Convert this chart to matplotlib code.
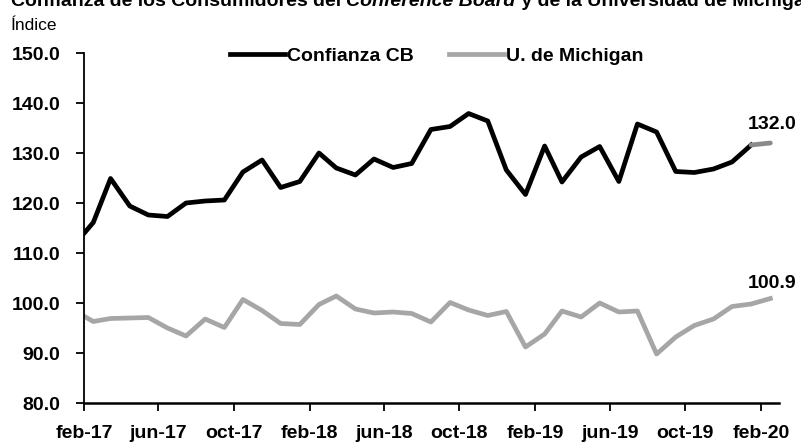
import numpy as np
import pandas as pd
import matplotlib
matplotlib.use("Agg")
import matplotlib.pyplot as plt
import matplotlib.dates as mdates

plt.rcParams['font.family'] = ['Liberation Sans', 'DejaVu Sans']

# Monthly data, jan-17 .. feb-20 (points sit mid-month on a date axis)
months = pd.date_range("2017-01-01", "2020-02-01", freq="MS") + pd.Timedelta(days=15)

cb = [111.6, 116.1, 124.9, 119.4, 117.6, 117.3, 120.0, 120.4, 120.6, 126.2, 128.6, 123.1,
      124.3, 130.0, 127.0, 125.6, 128.8, 127.1, 127.9, 134.7, 135.3, 137.9, 136.4, 126.6,
      121.7, 131.4, 124.2, 129.2, 131.3, 124.3, 135.8, 134.2, 126.3, 126.1, 126.8, 128.2,
      131.6, 132.0]
umich = [98.5, 96.3, 96.9, 97.0, 97.1, 95.0, 93.4, 96.8, 95.1, 100.7, 98.5, 95.9,
         95.7, 99.7, 101.4, 98.8, 98.0, 98.2, 97.9, 96.2, 100.1, 98.6, 97.5, 98.3,
         91.2, 93.8, 98.4, 97.2, 100.0, 98.2, 98.4, 89.8, 93.2, 95.5, 96.8, 99.3,
         99.8, 100.9]

tick_dates = pd.date_range("2017-02-01", "2020-02-01", freq="4MS")
tick_labels = ["feb-17", "jun-17", "oct-17", "feb-18", "jun-18", "oct-18",
               "feb-19", "jun-19", "oct-19", "feb-20"]
y_ticks = [80, 90, 100, 110, 120, 130, 140, 150]

fs = 14

fig = plt.figure(figsize=(8.01, 4.43), dpi=100)
ax = fig.add_axes([84/801, 1 - 403/443, (779 - 84)/801, 350/443])

lw = 3.4
ax.plot(months[:-1], cb[:-1], color='black', lw=lw, solid_joinstyle='round',
        label='Confianza CB')
ax.plot(months[-2:], cb[-2:], color='#8a8a8a', lw=lw, solid_capstyle='round')
ax.plot(months, umich, color='#a6a6a6', lw=lw, solid_joinstyle='round',
        label='U. de Michigan')

ax.set_xlim(pd.Timestamp("2017-02-01"), pd.Timestamp("2020-03-01"))
ax.set_ylim(80, 150)
ax.set_yticks(y_ticks)
ax.set_yticklabels([f"{v:.1f}" for v in y_ticks], fontsize=fs, fontweight='bold')
ax.set_xticks(tick_dates)
ax.set_xticklabels(tick_labels, fontsize=fs, fontweight='bold')
ax.tick_params(axis='y', direction='out', length=6, width=1.3, pad=11)
ax.tick_params(axis='x', direction='out', length=6, width=1.3, pad=10)

for s in ['top', 'right']:
    ax.spines[s].set_visible(False)
ax.spines['left'].set_linewidth(1.3)
ax.spines['bottom'].set_linewidth(1.8)

ax.annotate(f"{cb[-1]:.1f}", (months[-1], cb[-1]), xytext=(1, 13),
            textcoords='offset points', ha='center', va='center',
            fontsize=fs, fontweight='bold', annotation_clip=False)
ax.annotate(f"{umich[-1]:.1f}", (months[-1], umich[-1]), xytext=(1, 11),
            textcoords='offset points', ha='center', va='center',
            fontsize=fs, fontweight='bold', annotation_clip=False)

fig.legend(loc='center', bbox_to_anchor=(0.545, 1 - 56/443), ncol=2, frameon=False,
           prop={'size': fs, 'weight': 'bold'}, handlelength=2.85,
           handletextpad=0.1, columnspacing=1.8)

# Title (partly cut off at the top, as in the source), italic "Conference Board"
renderer = fig.canvas.get_renderer()
parts = [("Confianza de los Consumidores del ", 'normal'),
         ("Conference Board", 'italic'),
         (" y de la Universidad de Michigan", 'normal')]
x = 11 / 801
for txt, style in parts:
    t = fig.text(x, 1 - 6/443, txt, fontsize=fs, fontweight='bold', style=style,
                 va='baseline', ha='left')
    bb = t.get_window_extent(renderer)
    x += bb.width / fig.bbox.width

fig.text(11/801, 1 - 30/443, "Índice", fontsize=12.5, va='baseline', ha='left')

fig.savefig("out.png", dpi=100)
